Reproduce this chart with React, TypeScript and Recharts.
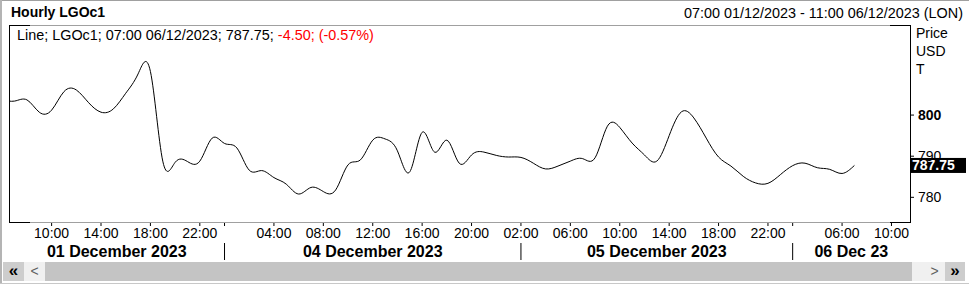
import React from 'react';
import { LineChart, Line, XAxis, YAxis, ReferenceLine } from 'recharts';

// Hourly bar index (0 = 07:00 01/12/2023), weekend gap removed
const barIndex = [
  -1, 0, 1, 2, 3, 4, 5, 6, 7, 8, 9, 10, 11, 12, 13, 14, 15, 16, 17, 18, 19,
  20, 21, 22, 23, 24, 25, 26, 27, 28, 29, 30, 31, 32, 33, 34, 35, 36, 37, 38,
  39, 40, 41, 42, 43, 44, 45, 46, 47, 48, 49, 50, 51, 52, 53, 54, 55, 56, 57,
  58, 59, 60, 61, 62, 63, 64, 65, 66, 67, 68,
];
const closeValues = [
  803.8, 803.4, 803.7, 800.7, 801.2, 805.7, 806.1, 803.0, 800.7, 801.5, 805.3,
  810.0, 810.6, 788.8, 788.5, 788.7, 788.8, 794.4, 793.1, 792.0, 786.6, 786.5,
  784.8, 783.2, 780.8, 782.4, 781.4, 781.8, 787.9, 789.1, 793.9, 794.2, 791.3,
  786.2, 795.8, 791.0, 793.9, 788.3, 790.3, 791.0, 790.2, 789.8, 789.7, 788.3,
  786.9, 787.6, 788.8, 789.4, 789.6, 797.3, 797.0, 793.2, 790.3, 788.8, 795.0,
  800.8, 799.3, 794.4, 789.8, 787.6, 785.1, 783.5, 783.4, 785.5, 787.7, 788.3,
  787.2, 786.8, 785.8, 787.75,
];

const timeTickIdx = [3, 7, 11, 15, 17, 21, 25, 29, 33, 37, 41, 45, 49, 53, 57, 61, 63, 67, 71];
const timeTickLabels = [
  '10:00', '14:00', '18:00', '22:00', '', '04:00', '08:00', '12:00', '16:00',
  '20:00', '02:00', '06:00', '10:00', '14:00', '18:00', '22:00', '', '06:00', '10:00',
];

const xDomain: [number, number] = [-0.45, 72.5];
const dayStarts = [-0.45, 17, 41, 63];
const dayLabels = ['01 December 2023', '04 December 2023', '05 December 2023', '06 Dec 23'];

const yDomain: [number, number] = [774, 821.9];
const yTicks = [780, 790, 800];
const boldYTick = 800;

const title = 'Hourly LGOc1';
const rangeText = '07:00 01/12/2023 - 11:00 06/12/2023 (LON)';
const lastTime = '07:00 06/12/2023';
const changeAbs = -4.5;
const changePct = -0.57;
const unitLines = ['Price', 'USD', 'T'];

const rows = barIndex.map((i, k) => ({ idx: i, v: closeValues[k] }));
const lastValue = closeValues[closeValues.length - 1];

const FONT = '"Liberation Sans", Arial, sans-serif';

const sepSet = new Set(dayStarts.slice(1));
const dayCenters = dayStarts.map((s, i) => (s + (i + 1 < dayStarts.length ? dayStarts[i + 1] : xDomain[1])) / 2);
const dayAxisTicks = [...dayStarts.slice(1), ...dayCenters];

const TimeTick = (props: any) => {
  const { x, y, payload } = props;
  const i = timeTickIdx.indexOf(payload.value);
  const label = i >= 0 ? timeTickLabels[i] : '';
  return (
    <text x={x} y={y} dy="0.71em" textAnchor="middle" fontFamily={FONT} fontSize={14} fill="#000">
      {label}
    </text>
  );
};

const DayTick = (props: any) => {
  const { x, y, payload } = props;
  const v = payload.value;
  if (sepSet.has(v)) {
    return <line x1={x} x2={x} y1={y + 1} y2={y + 18} stroke="#000" strokeWidth={1} />;
  }
  const i = dayCenters.indexOf(v);
  return (
    <text x={x} y={y + 9} dy="0.36em" textAnchor="middle" fontFamily={FONT} fontSize={16} fontWeight="bold" fill="#000">
      {i >= 0 ? dayLabels[i] : ''}
    </text>
  );
};

const PriceTick = (props: any) => {
  const { x, y, payload } = props;
  return (
    <text x={x} y={y} dy="0.36em" textAnchor="start" fontFamily={FONT} fontSize={14}
      fontWeight={payload.value === boldYTick ? 'bold' : 'normal'} fill="#000">
      {payload.value}
    </text>
  );
};

const LastLabel = (props: any) => {
  const vb = props.viewBox || {};
  const x0 = vb.x + vb.width;
  const yc = vb.y;
  return (
    <g>
      <rect x={x0} y={yc - 7.5} width={56} height={15} fill="#000" />
      <text x={x0 + 2} y={yc} dy="0.36em" fontFamily={FONT} fontSize={14} fontWeight="bold" fill="#fff">
        {lastValue.toFixed(2)}
      </text>
    </g>
  );
};

const abs = (s: React.CSSProperties): React.CSSProperties => ({ position: 'absolute', ...s });

export default function App() {
  const plotL = 9, plotT = 25, plotR = 910, plotB = 222;
  return (
    <div style={abs({ left: 0, top: 0, width: 969, height: 285, background: '#fff', fontFamily: FONT, overflow: 'hidden' })}>
      <LineChart width={969} height={285} data={rows} margin={{ top: 25, right: 0, left: 9, bottom: 23 }}>
        <XAxis xAxisId="a" dataKey="idx" type="number" domain={xDomain} allowDataOverflow
          ticks={timeTickIdx} interval={0} tick={<TimeTick />} tickSize={4} tickMargin={2}
          tickLine={{ stroke: '#000' }} axisLine={false} height={20} />
        <XAxis xAxisId="b" dataKey="idx" type="number" domain={xDomain} allowDataOverflow
          ticks={dayAxisTicks} interval={0} tick={<DayTick />} tickSize={0} tickMargin={0}
          tickLine={false} axisLine={false} height={20} />
        <YAxis orientation="right" domain={yDomain} allowDataOverflow ticks={yTicks} interval={0}
          tick={<PriceTick />} tickSize={4} tickMargin={4} tickLine={{ stroke: '#000' }}
          axisLine={false} width={59} />
        <Line xAxisId="a" dataKey="v" type="natural" stroke="#000" strokeWidth={1} dot={false}
          isAnimationActive={false} />
        <ReferenceLine xAxisId="a" y={lastValue} stroke="none" label={<LastLabel />} />
      </LineChart>

      {/* outer frame */}
      <div style={abs({ left: 0, top: 0, width: 969, height: 1, background: '#a0a0a0' })} />
      <div style={abs({ left: 0, top: 0, width: 2, height: 284, background: '#b4b4b4' })} />
      <div style={abs({ left: 0, top: 283, width: 969, height: 1, background: '#c8c8c8' })} />

      {/* plot box */}
      <div style={abs({ left: plotL, top: plotT, width: plotR - plotL, height: 1, background: '#a0a0a0' })} />
      <div style={abs({ left: plotL, top: plotB, width: plotR - plotL, height: 1, background: '#a0a0a0' })} />
      <div style={abs({ left: plotL, top: plotT, width: 21, height: 1, background: '#000' })} />
      <div style={abs({ left: plotL, top: plotB, width: 21, height: 1, background: '#000' })} />
      <div style={abs({ left: plotR - 20, top: plotT, width: 21, height: 1, background: '#000' })} />
      <div style={abs({ left: plotR - 20, top: plotB, width: 21, height: 1, background: '#000' })} />
      <div style={abs({ left: plotL, top: plotT, width: 1, height: plotB - plotT + 1, background: '#000' })} />
      <div style={abs({ left: plotR, top: plotT, width: 1, height: plotB - plotT + 1, background: '#000' })} />

      {/* header */}
      <div style={abs({ left: 11, top: 4, fontSize: 14, fontWeight: 'bold', lineHeight: '16px', whiteSpace: 'nowrap' })}>{title}</div>
      <div style={abs({ right: 6, top: 5, fontSize: 14.4, lineHeight: '16px', whiteSpace: 'nowrap' })}>{rangeText}</div>

      {/* legend */}
      <div style={abs({ left: 17, top: 27, fontSize: 14.4, lineHeight: '16px', whiteSpace: 'nowrap' })}>
        <span>{`Line; LGOc1; ${lastTime}; ${lastValue.toFixed(2)}; `}</span>
        <span style={{ color: '#ff0000' }}>{`${changeAbs.toFixed(2)}; (${changePct.toFixed(2)}%)`}</span>
      </div>

      {/* units */}
      {unitLines.map((u, i) => (
        <div key={u} style={abs({ left: 916, top: 25 + i * 18, fontSize: 14, lineHeight: '16px' })}>{u}</div>
      ))}

      {/* scrollbar */}
      <div style={abs({ left: 3, top: 262, width: 21, height: 19, background: '#cdcdcd', fontSize: 17, fontWeight: 'bold', textAlign: 'center', lineHeight: '18px' })}>«</div>
      <div style={abs({ left: 24, top: 262, width: 21, height: 19, background: '#f0f0f0', color: '#606060', fontSize: 14, textAlign: 'center', lineHeight: '19px' })}>&lt;</div>
      <div style={abs({ left: 45, top: 262, width: 867, height: 19, background: '#c4c4c4' })} />
      <div style={abs({ left: 912, top: 262, width: 33, height: 19, background: '#f0f0f0' })} />
      <div style={abs({ left: 924, top: 262, width: 21, height: 19, color: '#606060', fontSize: 14, textAlign: 'center', lineHeight: '19px' })}>&gt;</div>
      <div style={abs({ left: 945, top: 262, width: 20, height: 19, background: '#cdcdcd', fontSize: 17, fontWeight: 'bold', textAlign: 'center', lineHeight: '18px' })}>»</div>
    </div>
  );
}
